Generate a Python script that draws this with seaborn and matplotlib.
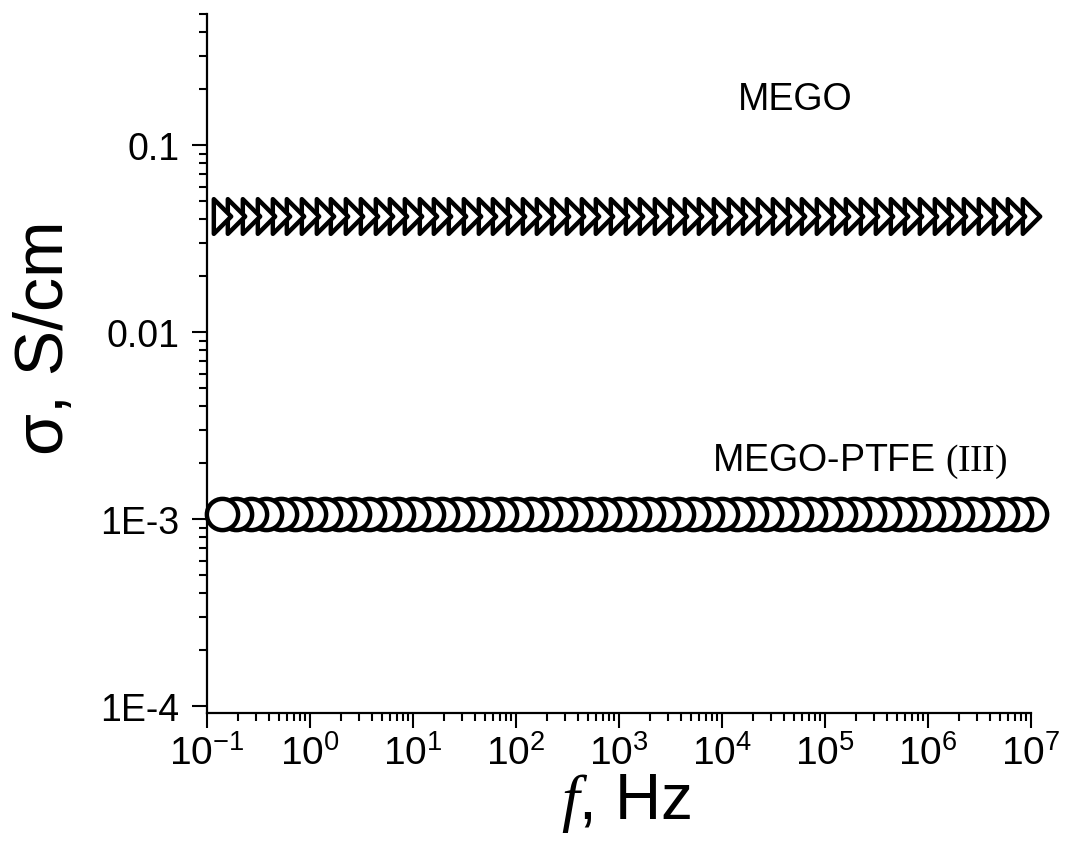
import matplotlib
matplotlib.use("Agg")
import matplotlib.pyplot as plt
from matplotlib.path import Path
from matplotlib.ticker import LogLocator, NullFormatter, FixedLocator, FixedFormatter
import seaborn as sns

# ---------------- data ----------------
freq_hz = [
    1.0e7, 7.20e6, 5.18e6, 3.73e6, 2.68e6, 1.93e6, 1.39e6,
    1.0e6, 7.20e5, 5.18e5, 3.73e5, 2.68e5, 1.93e5, 1.39e5,
    1.0e5, 7.20e4, 5.18e4, 3.73e4, 2.68e4, 1.93e4, 1.39e4,
    1.0e4, 7.20e3, 5.18e3, 3.73e3, 2.68e3, 1.93e3, 1.39e3,
    1.0e3, 720.0, 518.0, 373.0, 268.0, 193.0, 139.0,
    100.0, 72.0, 51.8, 37.3, 26.8, 19.3, 13.9,
    10.0, 7.20, 5.18, 3.73, 2.68, 1.93, 1.39,
    1.0, 0.720, 0.518, 0.373, 0.268, 0.193, 0.139,
]
sigma_mego = [
    0.0417, 0.0417, 0.0417, 0.0417, 0.0417, 0.0417, 0.0417,
    0.0417, 0.0417, 0.0417, 0.0417, 0.0417, 0.0417, 0.0417,
    0.0417, 0.0417, 0.0417, 0.0417, 0.0417, 0.0417, 0.0417,
    0.0417, 0.0417, 0.0417, 0.0417, 0.0417, 0.0417, 0.0417,
    0.0417, 0.0417, 0.0417, 0.0417, 0.0417, 0.0417, 0.0417,
    0.0417, 0.0417, 0.0417, 0.0417, 0.0417, 0.0417, 0.0417,
    0.0417, 0.0417, 0.0417, 0.0417, 0.0417, 0.0417, 0.0417,
    0.0417, 0.0417, 0.0417, 0.0417, 0.0417, 0.0417, 0.0417,
]
sigma_mego_ptfe = [
    0.00106, 0.00106, 0.00106, 0.00106, 0.00106, 0.00106, 0.00106,
    0.00106, 0.00106, 0.00106, 0.00106, 0.00106, 0.00106, 0.00106,
    0.00106, 0.00106, 0.00106, 0.00106, 0.00106, 0.00106, 0.00106,
    0.00106, 0.00106, 0.00106, 0.00106, 0.00106, 0.00106, 0.00106,
    0.00106, 0.00106, 0.00106, 0.00106, 0.00106, 0.00106, 0.00106,
    0.00106, 0.00106, 0.00106, 0.00106, 0.00106, 0.00106, 0.00106,
    0.00106, 0.00106, 0.00106, 0.00106, 0.00106, 0.00106, 0.00106,
    0.00106, 0.00106, 0.00106, 0.00106, 0.00106, 0.00106, 0.00106,
]
ytick_values = [1e-4, 1e-3, 1e-2, 1e-1]
ytick_labels = ["1E-4", "1E-3", "0.01", "0.1"]
series_labels = ["MEGO", r"MEGO-PTFE $\mathrm{(III)}$"]
x_label = r"$\mathit{f}$, Hz"
y_label = "σ, S/cm"

# ---------------- style ----------------
sns.set_style("ticks")
plt.rcParams["font.family"] = ["Liberation Sans", "DejaVu Sans"]
plt.rcParams["mathtext.fontset"] = "custom"
plt.rcParams["mathtext.rm"] = "Liberation Serif"
plt.rcParams["mathtext.it"] = "Liberation Serif:italic"
plt.rcParams["mathtext.default"] = "regular"
plt.rcParams["text.color"] = "black"
plt.rcParams["axes.labelcolor"] = "black"

W, H = 1090, 854
fig = plt.figure(figsize=(W / 100, H / 100), dpi=100)
L, R, T, B = 207, 1031, 15, 714
ax = fig.add_axes([L / W, 1 - B / H, (R - L) / W, (B - T) / H])

chevron = Path([(-0.5, 1.0), (0.5, 0.0), (-0.5, -1.0), (0.0, 0.0)], closed=True)

sns.scatterplot(x=freq_hz, y=sigma_mego, marker=chevron, s=25 ** 2,
                color="black", facecolor="white", edgecolor="black",
                linewidth=3.2, clip_on=False, zorder=3, ax=ax)
sns.scatterplot(x=freq_hz, y=sigma_mego_ptfe, marker="o", s=22.5 ** 2,
                color="black", facecolor="white", edgecolor="black",
                linewidth=3.2, clip_on=False, zorder=3, ax=ax)

ax.set_xscale("log")
ax.set_yscale("log")
ax.set_xlim(0.1, 1e7)
ax.set_ylim(10 ** -4.037, 10 ** -0.2995)

ax.xaxis.set_major_locator(LogLocator(base=10, numticks=20))
ax.xaxis.set_minor_locator(LogLocator(base=10, subs=range(2, 10), numticks=100))
ax.xaxis.set_minor_formatter(NullFormatter())
ax.yaxis.set_major_locator(FixedLocator(ytick_values))
ax.yaxis.set_major_formatter(FixedFormatter(ytick_labels))
ax.yaxis.set_minor_locator(LogLocator(base=10, subs=range(2, 10), numticks=100))
ax.yaxis.set_minor_formatter(NullFormatter())

for s in ["top", "right"]:
    ax.spines[s].set_visible(False)
for s in ["left", "bottom"]:
    ax.spines[s].set_linewidth(1.6)
    ax.spines[s].set_color("black")

ax.tick_params(which="major", direction="out", length=11, width=1.5,
               labelsize=27, colors="black")
ax.tick_params(axis="y", which="major", pad=9)
ax.tick_params(axis="x", which="major", labelsize=28, pad=4)
ax.tick_params(which="minor", direction="out", length=5.5, width=1.5, colors="black")

ax.set_xlabel(x_label, fontsize=46)
ax.xaxis.label.set_va("top")
ax.xaxis.set_label_coords((626 - L) / (R - L), (B - 772) / (B - T))
ax.set_ylabel(y_label, fontsize=49)
ax.yaxis.label.set_va("center")
ax.yaxis.set_label_coords((45 - L) / (R - L), (B - 338) / (B - T))

ax.text(1.43e4, 0.176, series_labels[0], fontsize=27, ha="left", va="center")
ax.text(8.0e3, 0.00204, series_labels[1], fontsize=27, ha="left", va="center")

fig.savefig("out.png", dpi=100, facecolor="white")
